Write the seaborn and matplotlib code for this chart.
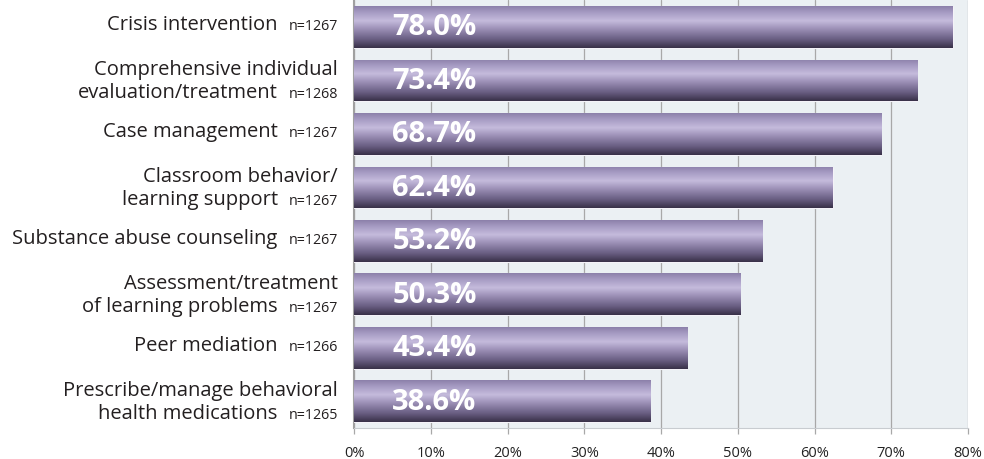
import numpy as np
import pandas as pd
import matplotlib
matplotlib.use("Agg")
import matplotlib.pyplot as plt
from matplotlib.colors import LinearSegmentedColormap
import seaborn as sns

# Services offered, share of respondents (%)
services = [
    "Crisis intervention",
    "Comprehensive individual\nevaluation/treatment",
    "Case management",
    "Classroom behavior/\nlearning support",
    "Substance abuse counseling",
    "Assessment/treatment\nof learning problems",
    "Peer mediation",
    "Prescribe/manage behavioral\nhealth medications",
]
percents = [78.0, 73.4, 68.7, 62.4, 53.2, 50.3, 43.4, 38.6]
sample_sizes = [1267, 1268, 1267, 1267, 1267, 1267, 1266, 1265]
x_ticks = [0, 10, 20, 30, 40, 50, 60, 70, 80]

df = pd.DataFrame({"service": services, "percent": percents})

sns.set_theme(style="white")
plt.rcParams["font.family"] = ["Open Sans", "DejaVu Sans"]

fig = plt.figure(figsize=(9.84, 4.6), dpi=100)
ax = fig.add_axes([0.3598, 0.0674, 0.6240, 0.930])
ax.set_facecolor("#EBF0F3")

sns.barplot(data=df, x="percent", y="service", orient="h", ax=ax,
            color="#9A8FB5", width=0.78, edgecolor="#F4F2F8", linewidth=0.8,
            zorder=3)

ax.set_xlim(0, 80)
ax.set_ylim(len(services) - 0.5, -0.5)

# Vertical shading for each bar, clipped to the bar shape
shade = LinearSegmentedColormap.from_list(
    "bar_shade",
    [(0.0, "#8C80AA"), (0.15, "#A69BC3"), (0.35, "#C5BBDC"),
     (0.55, "#9A8EB5"), (0.8, "#675C80"), (1.0, "#383047")])
grad = np.linspace(0, 1, 256).reshape(-1, 1)
for patch in ax.patches:
    x0, y0 = patch.get_x(), patch.get_y()
    w, h = patch.get_width(), patch.get_height()
    im = ax.imshow(grad, cmap=shade, aspect="auto",
                   extent=(x0, x0 + w, y0 + h, y0), zorder=3.5,
                   interpolation="bilinear")
    im.set_clip_path(patch)
ax.set_xlim(0, 80)
ax.set_ylim(len(services) - 0.5, -0.5)

# Value labels inside bars
for i, v in enumerate(percents):
    ax.text(5.0, i, f"{v:.1f}%", ha="left", va="center", color="white",
            fontsize=21, fontweight="bold", zorder=5,
            family=["Open Sans", "DejaVu Sans"])

# Axis styling
ax.set_xticks(x_ticks)
ax.set_xticklabels([f"{t}%" for t in x_ticks], fontsize=10.5, color="#222222")
ax.xaxis.grid(True, color="#A8A8A8", linewidth=0.9, zorder=1)
ax.set_axisbelow(True)
ax.tick_params(axis="x", length=4, color="#A8A8A8", width=0.9, pad=8,
               bottom=True)
ax.set_yticks([])
ax.set_xlabel("")
ax.set_ylabel("")
for side in ["top", "right"]:
    ax.spines[side].set_visible(False)
ax.spines["left"].set_color("#A0A0A0")
ax.spines["left"].set_linewidth(1.5)
ax.spines["bottom"].set_color("#C8CCD0")
ax.spines["bottom"].set_linewidth(0.8)

# Category labels with sample sizes on the left (baseline offsets in points)
for i, (label, n) in enumerate(zip(services, sample_sizes)):
    lines = label.split("\n")
    if len(lines) == 1:
        offsets = [-1.5]
    else:
        offsets = [4.5, -12]
    for j, (line, dy) in enumerate(zip(lines, offsets)):
        last = j == len(lines) - 1
        dx = -55 if last else -11.5
        ax.annotate(line, xy=(0, i), xycoords=("axes fraction", "data"),
                    xytext=(dx, dy), textcoords="offset points",
                    ha="right", va="baseline", fontsize=14.5, color="#231F20",
                    annotation_clip=False)
        if last:
            ax.annotate(f"n={n}", xy=(0, i), xycoords=("axes fraction", "data"),
                        xytext=(-11.5, dy), textcoords="offset points",
                        ha="right", va="baseline", fontsize=10.3,
                        color="#231F20", annotation_clip=False)

fig.savefig("out.png", dpi=100)
